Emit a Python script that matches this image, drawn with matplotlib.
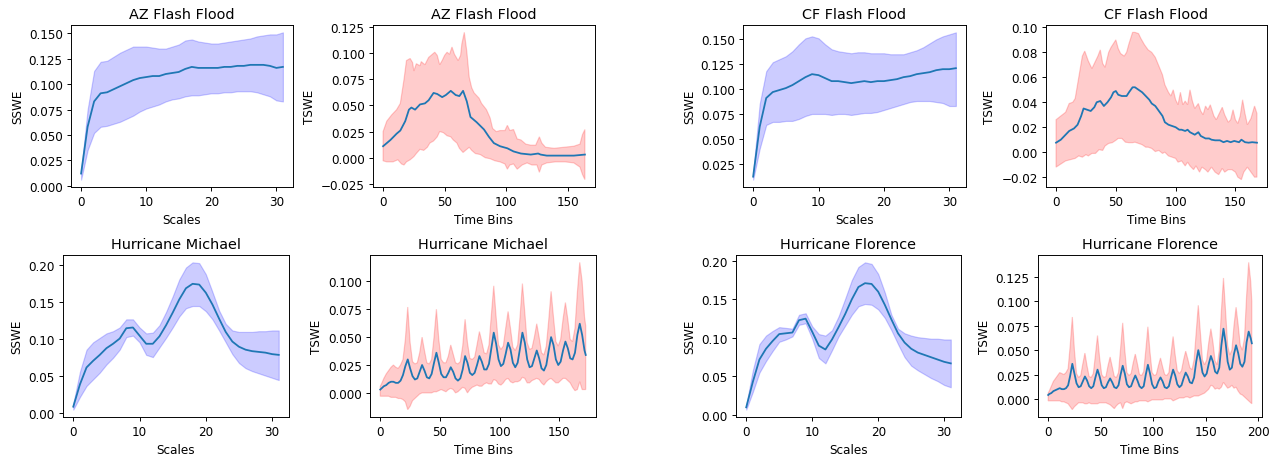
import numpy as np
import matplotlib
matplotlib.use("Agg")
import matplotlib.pyplot as plt
from matplotlib.ticker import MultipleLocator

# ---- spatial (scale) error, 32 scales ----
scales = np.arange(32)

az_sswe_mean = [0.012, 0.058, 0.083, 0.091, 0.092, 0.095, 0.098, 0.101, 0.104, 0.106,
                0.107, 0.108, 0.108, 0.110, 0.111, 0.112, 0.115, 0.117, 0.116, 0.116,
                0.116, 0.116, 0.117, 0.117, 0.118, 0.118, 0.119, 0.119, 0.119, 0.118,
                0.116, 0.117]
az_sswe_up = [0.014, 0.075, 0.113, 0.122, 0.123, 0.127, 0.131, 0.134, 0.137, 0.137,
              0.137, 0.136, 0.135, 0.135, 0.137, 0.139, 0.143, 0.144, 0.142, 0.141,
              0.140, 0.140, 0.141, 0.142, 0.143, 0.144, 0.145, 0.147, 0.148, 0.149,
              0.149, 0.151]
az_sswe_lo = [0.006, 0.035, 0.052, 0.058, 0.059, 0.061, 0.063, 0.066, 0.069, 0.073,
              0.076, 0.078, 0.080, 0.083, 0.085, 0.086, 0.088, 0.089, 0.089, 0.090,
              0.091, 0.091, 0.092, 0.092, 0.093, 0.093, 0.093, 0.092, 0.090, 0.088,
              0.084, 0.083]

cf_sswe_mean = [0.012, 0.062, 0.091, 0.097, 0.099, 0.101, 0.104, 0.108, 0.112, 0.115,
                0.114, 0.111, 0.108, 0.108, 0.107, 0.106, 0.107, 0.108, 0.107, 0.108,
                0.108, 0.109, 0.110, 0.112, 0.113, 0.115, 0.116, 0.117, 0.119, 0.120,
                0.120, 0.121]
cf_sswe_up = [0.016, 0.085, 0.118, 0.127, 0.130, 0.133, 0.138, 0.145, 0.151, 0.153,
              0.151, 0.145, 0.140, 0.138, 0.137, 0.136, 0.137, 0.137, 0.136, 0.136,
              0.136, 0.135, 0.135, 0.135, 0.137, 0.139, 0.142, 0.146, 0.150, 0.153,
              0.155, 0.157]
cf_sswe_lo = [0.009, 0.040, 0.064, 0.067, 0.067, 0.068, 0.068, 0.070, 0.073, 0.075,
              0.075, 0.075, 0.074, 0.075, 0.075, 0.074, 0.075, 0.076, 0.076, 0.077,
              0.079, 0.081, 0.083, 0.085, 0.087, 0.088, 0.088, 0.088, 0.087, 0.086,
              0.083, 0.083]

mi_sswe_mean = [0.008, 0.038, 0.061, 0.070, 0.078, 0.087, 0.093, 0.100, 0.114, 0.115,
                0.104, 0.093, 0.093, 0.103, 0.118, 0.135, 0.153, 0.168, 0.174, 0.173,
                0.162, 0.146, 0.127, 0.109, 0.096, 0.089, 0.085, 0.083, 0.082, 0.081,
                0.079, 0.078]
mi_sswe_up = [0.012, 0.055, 0.085, 0.095, 0.101, 0.107, 0.110, 0.115, 0.126, 0.126,
              0.115, 0.107, 0.108, 0.118, 0.136, 0.157, 0.180, 0.196, 0.203, 0.202,
              0.187, 0.163, 0.138, 0.120, 0.111, 0.109, 0.109, 0.109, 0.110, 0.110,
              0.111, 0.111]
mi_sswe_lo = [0.004, 0.021, 0.036, 0.045, 0.054, 0.065, 0.074, 0.085, 0.102, 0.104,
              0.095, 0.078, 0.075, 0.088, 0.101, 0.115, 0.130, 0.141, 0.144, 0.144,
              0.137, 0.126, 0.111, 0.095, 0.079, 0.067, 0.060, 0.056, 0.053, 0.050,
              0.047, 0.044]

fl_sswe_mean = [0.010, 0.043, 0.072, 0.086, 0.096, 0.105, 0.106, 0.107, 0.123, 0.125,
                0.108, 0.090, 0.085, 0.098, 0.114, 0.131, 0.150, 0.166, 0.171, 0.170,
                0.160, 0.143, 0.124, 0.106, 0.094, 0.086, 0.081, 0.078, 0.075, 0.072,
                0.069, 0.067]
fl_sswe_up = [0.013, 0.058, 0.092, 0.103, 0.109, 0.114, 0.113, 0.112, 0.130, 0.132,
              0.115, 0.105, 0.103, 0.110, 0.128, 0.151, 0.175, 0.192, 0.198, 0.196,
              0.183, 0.159, 0.130, 0.112, 0.106, 0.103, 0.101, 0.100, 0.099, 0.099,
              0.098, 0.098]
fl_sswe_lo = [0.007, 0.030, 0.055, 0.070, 0.083, 0.095, 0.098, 0.102, 0.117, 0.119,
              0.099, 0.074, 0.067, 0.084, 0.102, 0.116, 0.130, 0.141, 0.144, 0.143,
              0.137, 0.126, 0.110, 0.092, 0.075, 0.064, 0.058, 0.053, 0.048, 0.044,
              0.039, 0.036]

# ---- temporal error, AZ flash flood ----
az_t_mean_x = [0, 6, 11, 14, 18, 21, 23, 26, 30, 34, 37, 41, 44, 48, 51, 55, 59, 62, 65, 68,
               71, 76, 82, 86, 90, 95, 101, 106, 112, 120, 126, 128, 133, 144, 155, 164]
az_t_mean = [0.011, 0.017, 0.023, 0.026, 0.035, 0.046, 0.048, 0.046, 0.051, 0.052,
             0.055, 0.062, 0.061, 0.058, 0.060, 0.064, 0.060, 0.059, 0.064, 0.054,
             0.039, 0.034, 0.027, 0.020, 0.014, 0.011, 0.009, 0.006, 0.004, 0.003,
             0.004, 0.003, 0.002, 0.002, 0.002, 0.003]
az_t_up_x = [0, 3, 7, 11, 14, 17, 19, 22, 24, 25, 27, 30, 31, 34, 37, 40, 42, 44, 46, 48,
             50, 52, 54, 56, 58, 61, 63, 64, 66, 68, 70, 72, 74, 78, 80, 84, 87, 89, 92, 95,
             99, 101, 103, 106, 109, 112, 116, 120, 124, 127, 129, 132, 139, 147, 155, 160,
             162, 164]
az_t_up = [0.025, 0.035, 0.041, 0.046, 0.052, 0.075, 0.093, 0.095, 0.091, 0.083,
           0.090, 0.088, 0.092, 0.089, 0.096, 0.099, 0.101, 0.098, 0.089, 0.093,
           0.098, 0.101, 0.099, 0.106, 0.099, 0.093, 0.098, 0.109, 0.120, 0.102,
           0.077, 0.067, 0.062, 0.057, 0.052, 0.046, 0.038, 0.028, 0.025, 0.026,
           0.026, 0.031, 0.026, 0.027, 0.018, 0.017, 0.013, 0.012, 0.012, 0.020,
           0.014, 0.010, 0.009, 0.010, 0.011, 0.013, 0.022, 0.027]
az_t_lo_x = [0, 3, 8, 12, 15, 17, 19, 22, 25, 27, 30, 33, 36, 38, 41, 44, 46, 49, 52, 55,
             57, 60, 62, 65, 68, 70, 72, 75, 79, 83, 87, 91, 95, 99, 101, 103, 106, 109, 113,
             117, 121, 125, 127, 129, 133, 140, 148, 155, 160, 162, 164]
az_t_lo = [-0.003, -0.004, -0.004, -0.002, -0.006, -0.007, -0.004, -0.002, 0.001, 0.004,
           0.008, 0.007, 0.010, 0.014, 0.016, 0.020, 0.025, 0.024, 0.021, 0.020,
           0.017, 0.014, 0.009, 0.005, 0.008, 0.010, 0.007, 0.004, 0.003, 0.000,
           -0.001, -0.003, -0.004, -0.006, -0.011, -0.007, -0.006, -0.011, -0.007, -0.005,
           -0.007, -0.007, -0.014, -0.007, -0.005, -0.004, -0.004, -0.005, -0.009, -0.016,
           -0.021]

# ---- temporal error, CF flash flood ----
cf_t_mean_x = [0, 4, 8, 11, 15, 18, 21, 23, 26, 29, 32, 34, 37, 40, 43, 46, 48, 50, 52, 55,
               59, 61, 64, 66, 69, 72, 75, 78, 80, 83, 86, 89, 91, 94, 97, 100, 103, 105, 108,
               110, 112, 116, 119, 121, 125, 128, 130, 133, 137, 140, 143, 146, 149, 153, 155,
               158, 161, 164, 168]
cf_t_mean = [0.0076, 0.010, 0.014, 0.017, 0.019, 0.022, 0.029, 0.035, 0.034, 0.033,
             0.036, 0.040, 0.041, 0.037, 0.040, 0.044, 0.048, 0.049, 0.046, 0.045,
             0.045, 0.048, 0.052, 0.052, 0.050, 0.048, 0.045, 0.042, 0.039, 0.037,
             0.033, 0.029, 0.024, 0.022, 0.021, 0.020, 0.018, 0.018, 0.017, 0.018,
             0.016, 0.014, 0.016, 0.013, 0.011, 0.011, 0.010, 0.0095, 0.0095, 0.008,
             0.009, 0.008, 0.009, 0.008, 0.010, 0.008, 0.0076, 0.008, 0.0076]
cf_t_up_x = [0, 4, 8, 11, 14, 16, 19, 22, 24, 27, 30, 33, 35, 37, 39, 41, 44, 46, 48, 50,
             52, 54, 57, 59, 61, 64, 66, 69, 71, 74, 77, 80, 83, 86, 89, 91, 94, 96, 98, 100,
             102, 104, 106, 108, 110, 112, 114, 116, 119, 121, 123, 125, 127, 129, 132, 134,
             137, 139, 141, 144, 146, 148, 150, 152, 154, 156, 158, 160, 163, 166, 168]
cf_t_up = [0.026, 0.029, 0.032, 0.039, 0.040, 0.043, 0.060, 0.077, 0.081, 0.073,
           0.067, 0.073, 0.077, 0.082, 0.071, 0.068, 0.080, 0.084, 0.087, 0.090,
           0.083, 0.079, 0.077, 0.080, 0.087, 0.096, 0.096, 0.095, 0.091, 0.086,
           0.082, 0.080, 0.076, 0.069, 0.062, 0.054, 0.048, 0.045, 0.050, 0.042,
           0.038, 0.048, 0.038, 0.041, 0.038, 0.050, 0.041, 0.035, 0.039, 0.033,
           0.030, 0.037, 0.034, 0.038, 0.029, 0.026, 0.032, 0.036, 0.030, 0.024,
           0.026, 0.034, 0.026, 0.023, 0.029, 0.042, 0.031, 0.022, 0.027, 0.037,
           0.031]
cf_t_lo_x = [0, 4, 8, 12, 16, 19, 22, 25, 27, 30, 33, 36, 39, 41, 44, 47, 50, 52, 55, 58,
             61, 64, 66, 69, 72, 75, 77, 80, 83, 86, 89, 91, 94, 97, 100, 102, 105, 108, 110,
             112, 115, 117, 120, 122, 125, 127, 130, 133, 136, 139, 141, 144, 147, 150, 152,
             155, 157, 160, 163, 166, 168]
cf_t_lo = [-0.012, -0.0095, -0.007, -0.006, -0.005, -0.003, -0.004, -0.002, -0.003, -0.001,
           -0.001, 0.002, 0.0014, 0.005, 0.007, 0.0076, 0.0095, 0.011, 0.011, 0.008,
           0.0076, 0.0076, 0.008, 0.007, 0.006, 0.004, 0.004, 0.003, 0.0005, 0.0014,
           -0.001, 0.000, -0.003, -0.004, -0.005, -0.008, -0.007, -0.011, -0.008, -0.011,
           -0.014, -0.011, -0.016, -0.012, -0.014, -0.016, -0.012, -0.016, -0.018, -0.013,
           -0.016, -0.014, -0.014, -0.016, -0.020, -0.022, -0.016, -0.012, -0.016, -0.020,
           -0.020]

# ---- temporal error, Hurricane Michael (bins 0, odd bins, 172) ----
mi_t_x = np.r_[0, np.arange(1, 172, 2), 172]
mi_t_mean = [0.003,
             0.004, 0.006, 0.007, 0.009, 0.010, 0.010, 0.009, 0.009, 0.011, 0.016,
             0.024, 0.030, 0.022, 0.015, 0.012, 0.013, 0.019, 0.025, 0.020, 0.014,
             0.013, 0.017, 0.027, 0.036, 0.027, 0.017, 0.014, 0.014, 0.018, 0.023,
             0.019, 0.013, 0.011, 0.013, 0.021, 0.033, 0.027, 0.018, 0.016, 0.018,
             0.025, 0.033, 0.028, 0.021, 0.021, 0.026, 0.040, 0.054, 0.044, 0.030,
             0.024, 0.026, 0.035, 0.045, 0.039, 0.027, 0.023, 0.027, 0.040, 0.054,
             0.045, 0.030, 0.023, 0.024, 0.031, 0.038, 0.031, 0.022, 0.020, 0.025,
             0.038, 0.050, 0.043, 0.030, 0.025, 0.028, 0.038, 0.046, 0.040, 0.031,
             0.030, 0.036, 0.052, 0.062, 0.052, 0.038,
             0.034]
mi_t_up = [0.006,
           0.008, 0.013, 0.017, 0.020, 0.023, 0.025, 0.023, 0.022, 0.025, 0.030,
           0.048, 0.077, 0.045, 0.028, 0.026, 0.027, 0.036, 0.050, 0.038, 0.027,
           0.026, 0.030, 0.050, 0.075, 0.048, 0.030, 0.027, 0.027, 0.033, 0.043,
           0.035, 0.027, 0.026, 0.028, 0.042, 0.066, 0.045, 0.031, 0.030, 0.032,
           0.043, 0.055, 0.046, 0.036, 0.035, 0.043, 0.070, 0.096, 0.068, 0.043,
           0.039, 0.042, 0.058, 0.073, 0.058, 0.041, 0.038, 0.043, 0.068, 0.098,
           0.072, 0.045, 0.039, 0.040, 0.050, 0.062, 0.050, 0.036, 0.034, 0.042,
           0.065, 0.091, 0.068, 0.046, 0.042, 0.048, 0.066, 0.081, 0.066, 0.048,
           0.046, 0.058, 0.090, 0.117, 0.100, 0.068,
           0.060]
mi_t_lo = [-0.003,
           -0.003, -0.003, -0.003, -0.003, -0.004, -0.004, -0.004, -0.005, -0.005, -0.006,
           -0.008, -0.015, -0.012, -0.007, -0.005, -0.003, -0.001, 0.000, 0.000, 0.000,
           0.000, 0.000, 0.001, 0.001, 0.002, 0.003, 0.002, 0.001, 0.003, 0.004,
           0.003, 0.000, 0.001, 0.003, 0.005, 0.004, 0.000, 0.003, 0.005, 0.006,
           0.007, 0.006, 0.006, 0.008, 0.009, 0.008, 0.008, 0.012, 0.011, 0.008,
           0.007, 0.009, 0.012, 0.013, 0.010, 0.009, 0.010, 0.010, 0.011, 0.014,
           0.013, 0.009, 0.009, 0.011, 0.012, 0.013, 0.012, 0.009, 0.007, 0.010,
           0.012, 0.013, 0.011, 0.009, 0.009, 0.011, 0.013, 0.013, 0.011, 0.009,
           0.005, 0.002, 0.003, 0.010, 0.003, 0.003,
           0.003]

# ---- temporal error, Hurricane Florence (bins 0, odd bins, 194) ----
fl_t_x = np.r_[0, np.arange(1, 194, 2), 194]
fl_t_mean = [0.004,
             0.005, 0.006, 0.008, 0.009, 0.010, 0.011, 0.010, 0.010, 0.011, 0.014,
             0.024, 0.036, 0.026, 0.016, 0.012, 0.013, 0.018, 0.023, 0.019, 0.013,
             0.011, 0.013, 0.022, 0.030, 0.023, 0.014, 0.011, 0.012, 0.017, 0.021,
             0.017, 0.012, 0.011, 0.014, 0.025, 0.034, 0.026, 0.015, 0.012, 0.013,
             0.019, 0.024, 0.019, 0.013, 0.011, 0.013, 0.025, 0.035, 0.026, 0.015,
             0.011, 0.012, 0.018, 0.022, 0.018, 0.012, 0.011, 0.013, 0.022, 0.030,
             0.024, 0.015, 0.012, 0.014, 0.021, 0.027, 0.023, 0.017, 0.016, 0.022,
             0.038, 0.050, 0.040, 0.027, 0.023, 0.026, 0.036, 0.044, 0.038, 0.028,
             0.026, 0.032, 0.055, 0.072, 0.058, 0.038, 0.030, 0.032, 0.046, 0.055,
             0.047, 0.036, 0.033, 0.038, 0.058, 0.069, 0.062,
             0.057]
fl_t_up = [0.006,
           0.008, 0.013, 0.018, 0.021, 0.024, 0.027, 0.026, 0.025, 0.027, 0.031,
           0.055, 0.084, 0.050, 0.026, 0.022, 0.024, 0.036, 0.047, 0.034, 0.023,
           0.022, 0.026, 0.045, 0.065, 0.042, 0.025, 0.022, 0.023, 0.034, 0.043,
           0.033, 0.023, 0.022, 0.027, 0.052, 0.078, 0.050, 0.027, 0.024, 0.026,
           0.037, 0.046, 0.036, 0.025, 0.024, 0.028, 0.050, 0.074, 0.048, 0.027,
           0.024, 0.025, 0.034, 0.042, 0.033, 0.025, 0.024, 0.027, 0.046, 0.064,
           0.045, 0.029, 0.026, 0.029, 0.040, 0.049, 0.041, 0.032, 0.030, 0.040,
           0.068, 0.096, 0.068, 0.040, 0.035, 0.040, 0.058, 0.072, 0.058, 0.039,
           0.035, 0.050, 0.090, 0.124, 0.090, 0.055, 0.045, 0.050, 0.075, 0.094,
           0.076, 0.055, 0.050, 0.062, 0.105, 0.140, 0.120,
           0.100]
fl_t_lo = [-0.002,
           -0.002, -0.002, -0.002, -0.002, -0.002, -0.002, -0.003, -0.003, -0.004, -0.005,
           -0.008, -0.011, -0.008, -0.006, -0.004, -0.004, -0.004, -0.005, -0.005, -0.004,
           -0.005, -0.005, -0.005, -0.005, -0.004, -0.004, -0.004, -0.004, -0.005, -0.006,
           -0.008, -0.010, -0.007, -0.005, -0.004, -0.010, -0.004, -0.003, -0.004, -0.005,
           -0.004, -0.003, -0.003, -0.002, -0.002, -0.002, -0.002, -0.003, -0.002, -0.001,
           -0.001, -0.001, -0.001, -0.001, -0.001, 0.000, 0.000, 0.000, 0.000, -0.002,
           -0.001, 0.000, 0.001, 0.001, 0.001, 0.002, 0.002, 0.001, 0.002, 0.003,
           0.003, 0.003, 0.004, 0.005, 0.006, 0.008, 0.010, 0.014, 0.013, 0.010,
           0.011, 0.010, 0.012, 0.017, 0.014, 0.011, 0.012, 0.014, 0.011, 0.012,
           0.008, 0.005, 0.004, 0.002, 0.000, -0.002, -0.004,
           -0.005]


def scale_panel(ax, mean, up, lo, title):
    ax.fill_between(scales, lo, up, color="blue", alpha=0.2)
    ax.plot(scales, mean)
    ax.set_title(title)
    ax.set_xlabel("Scales")
    ax.set_ylabel("SSWE")
    ax.xaxis.set_major_locator(MultipleLocator(10))


def time_panel(ax, xm, mean, xu, up, xl, lo, title):
    # band outline: upper edge forward, lower edge back
    bx = np.concatenate([np.asarray(xu), np.asarray(xl)[::-1]])
    by = np.concatenate([np.asarray(up), np.asarray(lo)[::-1]])
    ax.fill(bx, by, color="red", alpha=0.2)
    ax.plot(xm, mean)
    ax.set_title(title)
    ax.set_xlabel("Time Bins")
    ax.set_ylabel("TSWE")
    ax.xaxis.set_major_locator(MultipleLocator(50))


W, H = 1279, 455
DPI = 86
fig = plt.figure(figsize=(W / DPI, H / DPI), dpi=DPI)


def px_axes(left, right, top, bottom):
    return fig.add_axes([left / W, 1 - bottom / H, (right - left) / W, (bottom - top) / H])


ax1 = px_axes(71, 293, 26, 188)
ax2 = px_axes(373, 595, 26, 188)
ax3 = px_axes(743, 966, 26, 188)
ax4 = px_axes(1046, 1267, 26, 188)
ax5 = px_axes(63, 289, 256, 418)
ax6 = px_axes(370, 596, 256, 418)
ax7 = px_axes(736, 961, 256, 418)
ax8 = px_axes(1038, 1262, 256, 418)

scale_panel(ax1, az_sswe_mean, az_sswe_up, az_sswe_lo, "AZ Flash Flood")
time_panel(ax2, az_t_mean_x, az_t_mean, az_t_up_x, az_t_up, az_t_lo_x, az_t_lo, "AZ Flash Flood")
scale_panel(ax3, cf_sswe_mean, cf_sswe_up, cf_sswe_lo, "CF Flash Flood")
time_panel(ax4, cf_t_mean_x, cf_t_mean, cf_t_up_x, cf_t_up, cf_t_lo_x, cf_t_lo, "CF Flash Flood")
scale_panel(ax5, mi_sswe_mean, mi_sswe_up, mi_sswe_lo, "Hurricane Michael")
time_panel(ax6, mi_t_x, mi_t_mean, mi_t_x, mi_t_up, mi_t_x, mi_t_lo, "Hurricane Michael")
scale_panel(ax7, fl_sswe_mean, fl_sswe_up, fl_sswe_lo, "Hurricane Florence")
time_panel(ax8, fl_t_x, fl_t_mean, fl_t_x, fl_t_up, fl_t_x, fl_t_lo, "Hurricane Florence")

for ax, step in [(ax1, 0.025), (ax2, 0.025), (ax3, 0.025), (ax4, 0.02),
                 (ax5, 0.05), (ax6, 0.025), (ax7, 0.05), (ax8, 0.025)]:
    ax.yaxis.set_major_locator(MultipleLocator(step))

fig.savefig("out.png", dpi=DPI)
